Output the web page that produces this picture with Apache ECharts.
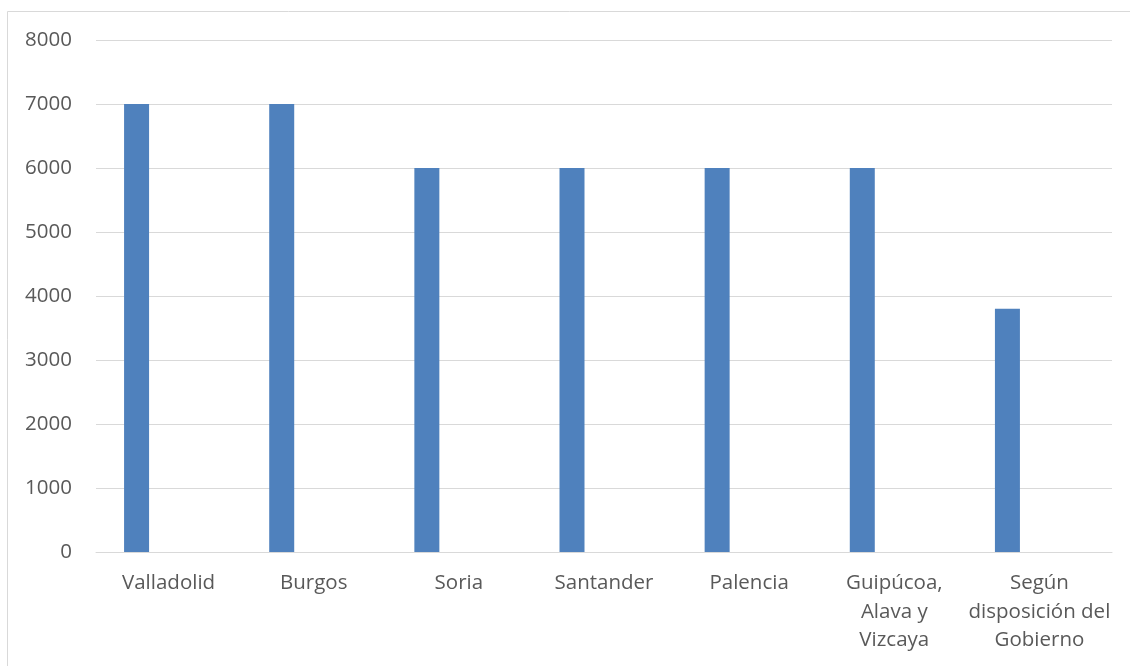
<!DOCTYPE html>
<html>
<head>
<meta charset="utf-8">
<script src="https://cdn.jsdelivr.net/npm/echarts@6/dist/echarts.min.js"></script>
<style>html,body{margin:0;padding:0;background:#fff}#c{width:1130px;height:666px}</style>
</head>
<body>
<div id="c"></div>
<script>
const categories = ["Valladolid", "Burgos", "Soria", "Santander", "Palencia", "Guipúcoa,\nAlava y\nVizcaya", "Según\ndisposición del\nGobierno"];
const values = [7000, 7000, 6000, 6000, 6000, 6000, 3800];
const emptySeries = [null, null, null, null, null, null, null];
const yTicks = { min: 0, max: 8000, interval: 1000 };

const chart = echarts.init(document.getElementById('c'), null, { renderer: 'canvas' });
const textColor = '#595959';
const font = '"Open Sans", "Noto Sans", sans-serif';
chart.setOption({
  animation: false,
  backgroundColor: '#fff',
  graphic: [{
    type: 'rect', shape: { x: 7.5, y: 11.5, width: 1200, height: 700 },
    style: { fill: 'none', stroke: '#d9d9d9', lineWidth: 1 }, silent: true
  }],
  grid: { left: 96, right: 18, top: 40, bottom: 114, containLabel: false },
  xAxis: {
    type: 'category', data: categories,
    axisLine: { show: true, lineStyle: { color: '#d9d9d9', width: 1 } },
    axisTick: { show: false },
    axisLabel: { color: textColor, fontSize: 20.5, fontFamily: font, margin: 17, lineHeight: 28.5, interval: 0, align: 'center' }
  },
  yAxis: {
    type: 'value', min: yTicks.min, max: yTicks.max, interval: yTicks.interval,
    axisLine: { show: false }, axisTick: { show: false },
    splitLine: { lineStyle: { color: '#d9d9d9', width: 1 } },
    axisLabel: { color: textColor, fontSize: 20.5, fontFamily: font, margin: 24, formatter: v => String(v) }
  },
  series: [
    { type: 'bar', data: values, barWidth: 25, barGap: '156%', itemStyle: { color: '#4f81bd' } },
    { type: 'bar', data: emptySeries, barWidth: 25, itemStyle: { color: '#c0504d' } }
  ]
});
</script>
</body>
</html>
